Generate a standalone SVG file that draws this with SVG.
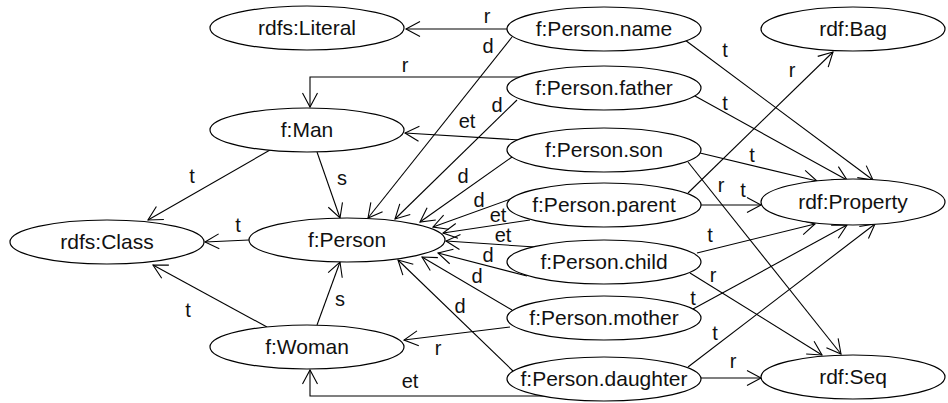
<svg xmlns="http://www.w3.org/2000/svg" width="948" height="403" viewBox="0 0 948 403">
<style>
.node ellipse{fill:#fff;stroke:#000;stroke-width:1.2}
.node text{font-family:"Liberation Sans",Arial,sans-serif;font-size:21px;fill:#111;text-anchor:middle}
.edges path{fill:none;stroke:#000;stroke-width:1.1;marker-end:url(#ah)}
.lbl{font-family:"Liberation Sans",Arial,sans-serif;font-size:20px;fill:#111;text-anchor:middle}
</style>
<defs>
<marker id="ah" viewBox="-16 -10 20 20" markerWidth="20" markerHeight="20" refX="0" refY="0" orient="auto" markerUnits="userSpaceOnUse">
<path d="M-14,-7.5 L0,0 L-14,7.5" fill="none" stroke="#000" stroke-width="1.1"/>
</marker>
</defs>
<rect width="948" height="403" fill="#fff"/>
<g class="edges" id="connectors">
<path d="M507,29 L406,29"/>
<path d="M512,37 L368,218"/>
<path d="M520,77 L310,77 L310,107"/>
<path d="M517,100 L395,219"/>
<path d="M520,140 L405,133"/>
<path d="M512,157 L420,222"/>
<path d="M530,192 L433,227"/>
<path d="M530,220 L443,233"/>
<path d="M535,247 L446,241"/>
<path d="M527,276 L438,253"/>
<path d="M512,310 L422,257"/>
<path d="M513,371 L398,260"/>
<path d="M510,327 L404,340"/>
<path d="M545,396 L310,396 L310,370"/>
<path d="M317,152 L340,218"/>
<path d="M317,325 L340,262"/>
<path d="M270,150 L148,220"/>
<path d="M249,240 L205,242"/>
<path d="M267,327 L153,265"/>
<path d="M685,40 L873,180"/>
<path d="M695,96 L847,180"/>
<path d="M700,153 L817,181"/>
<path d="M688,162 L841,354"/>
<path d="M688,193 L833,52"/>
<path d="M701,205 L761,205"/>
<path d="M697,253 L815,224"/>
<path d="M690,273 L822,355"/>
<path d="M693,309 L847,225"/>
<path d="M688,367 L875,224"/>
<path d="M701,378 L761,378"/>
<text class="lbl" x="487" y="23">r</text>
<text class="lbl" x="488" y="53">d</text>
<text class="lbl" x="405" y="72">r</text>
<text class="lbl" x="497" y="112">d</text>
<text class="lbl" x="467" y="128">et</text>
<text class="lbl" x="725" y="57">t</text>
<text class="lbl" x="725" y="110">t</text>
<text class="lbl" x="792" y="77">r</text>
<text class="lbl" x="192" y="183">t</text>
<text class="lbl" x="238" y="232">t</text>
<text class="lbl" x="342" y="185">s</text>
<text class="lbl" x="463" y="183">d</text>
<text class="lbl" x="479" y="207">d</text>
<text class="lbl" x="498" y="222">et</text>
<text class="lbl" x="503" y="242">et</text>
<text class="lbl" x="488" y="262">d</text>
<text class="lbl" x="477" y="283">d</text>
<text class="lbl" x="460" y="313">d</text>
<text class="lbl" x="752" y="162">t</text>
<text class="lbl" x="721" y="192">r</text>
<text class="lbl" x="743" y="197">t</text>
<text class="lbl" x="710" y="242">t</text>
<text class="lbl" x="713" y="282">r</text>
<text class="lbl" x="693" y="305">t</text>
<text class="lbl" x="715" y="340">t</text>
<text class="lbl" x="733" y="368">r</text>
<text class="lbl" x="340" y="306">s</text>
<text class="lbl" x="438" y="355">r</text>
<text class="lbl" x="410" y="388">et</text>
<text class="lbl" x="188" y="317">t</text>
</g>
<g class="node" id="rdfs-literal"><ellipse cx="307" cy="28" rx="97" ry="22"/><text x="307" y="35">rdfs:Literal</text></g>
<g class="node" id="f-person-name"><ellipse cx="604" cy="29" rx="97" ry="22"/><text x="604" y="36">f:Person.name</text></g>
<g class="node" id="rdf-bag"><ellipse cx="853" cy="29" rx="92" ry="22"/><text x="853" y="36">rdf:Bag</text></g>
<g class="node" id="f-man"><ellipse cx="307" cy="130" rx="97" ry="22"/><text x="307" y="137">f:Man</text></g>
<g class="node" id="f-person-father"><ellipse cx="604" cy="88" rx="97" ry="22"/><text x="604" y="95">f:Person.father</text></g>
<g class="node" id="f-person-son"><ellipse cx="604" cy="150" rx="97" ry="22"/><text x="604" y="157">f:Person.son</text></g>
<g class="node" id="rdfs-class"><ellipse cx="107" cy="242" rx="97" ry="22"/><text x="107" y="249">rdfs:Class</text></g>
<g class="node" id="f-person"><ellipse cx="347" cy="240" rx="98" ry="22"/><text x="347" y="247">f:Person</text></g>
<g class="node" id="f-person-parent"><ellipse cx="604" cy="205" rx="97" ry="22"/><text x="604" y="212">f:Person.parent</text></g>
<g class="node" id="rdf-property"><ellipse cx="853" cy="202" rx="92" ry="23"/><text x="853" y="209">rdf:Property</text></g>
<g class="node" id="f-person-child"><ellipse cx="604" cy="262" rx="97" ry="22"/><text x="604" y="269">f:Person.child</text></g>
<g class="node" id="f-person-mother"><ellipse cx="604" cy="318" rx="97" ry="22"/><text x="604" y="325">f:Person.mother</text></g>
<g class="node" id="f-woman"><ellipse cx="307" cy="347" rx="97" ry="22"/><text x="307" y="354">f:Woman</text></g>
<g class="node" id="f-person-daughter"><ellipse cx="604" cy="379" rx="97" ry="22"/><text x="604" y="386">f:Person.daughter</text></g>
<g class="node" id="rdf-seq"><ellipse cx="853" cy="377" rx="92" ry="22"/><text x="853" y="384">rdf:Seq</text></g>
</svg>
